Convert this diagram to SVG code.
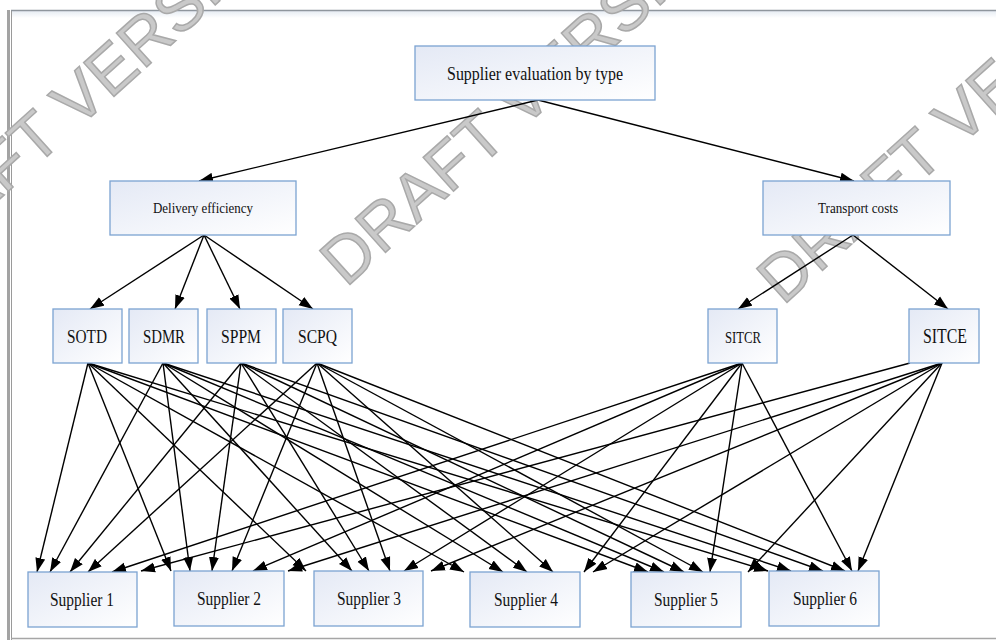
<svg xmlns="http://www.w3.org/2000/svg" width="996" height="640" viewBox="0 0 996 640">
<defs>
<linearGradient id="g" x1="0" y1="0" x2="1" y2="1">
<stop offset="0" stop-color="#e4e9f5"/>
<stop offset="1" stop-color="#ffffff"/>
</linearGradient>
<linearGradient id="band" x1="0" y1="0" x2="0" y2="1">
<stop offset="0" stop-color="#e6ecf3"/>
<stop offset="1" stop-color="#ffffff"/>
</linearGradient>
<marker id="ah" markerWidth="14" markerHeight="11" refX="14" refY="5.5" orient="auto" markerUnits="userSpaceOnUse">
<path d="M0,0.5 L14,5.5 L0,10.5 z" fill="#000"/>
</marker>
<style>
.box{fill:url(#g);stroke:#7ba3d2;stroke-width:1.3}
.t{font-family:"Liberation Serif","Times New Roman",serif;fill:#111;text-anchor:middle}
.wm{font-family:"Liberation Sans",Arial,sans-serif;font-size:66px;fill:#c9c9c9;stroke:#a9a9a9;stroke-width:1.5}
#edges line{stroke:#000;stroke-width:1.4;marker-end:url(#ah)}
</style>
</defs>
<rect x="0" y="0" width="996" height="640" fill="#fff"/>
<g id="frame">
<rect x="11" y="11" width="985" height="7" fill="url(#band)"/>
<rect x="7" y="10" width="3" height="630" fill="#a3a3a3"/>
<line x1="11.5" y1="10" x2="11.5" y2="640" stroke="#9a9a9a" stroke-width="1"/>
<line x1="11" y1="10.5" x2="996" y2="10.5" stroke="#8f969e" stroke-width="1.5"/>
<line x1="11" y1="638.5" x2="996" y2="638.5" stroke="#a6a6a6" stroke-width="1.5"/>
</g>
<g id="watermark">
<text class="wm" transform="translate(-99,288) rotate(-42)">DRAFT VERSION</text>
<text class="wm" transform="translate(346,288) rotate(-42)">DRAFT VERSION</text>
<text class="wm" transform="translate(783,306) rotate(-42)">DRAFT VERSION</text>
</g>
<g id="edges">
<line x1="538" y1="100" x2="199" y2="181"/>
<line x1="538" y1="100" x2="854" y2="181"/>
<line x1="204" y1="235" x2="90" y2="309"/>
<line x1="204" y1="235" x2="175" y2="309"/>
<line x1="204" y1="235" x2="240" y2="309"/>
<line x1="204" y1="235" x2="313" y2="309"/>
<line x1="853" y1="235" x2="738" y2="309"/>
<line x1="853" y1="235" x2="948" y2="309"/>
<!-- SOTD -->
<line x1="88" y1="363" x2="37" y2="572"/>
<line x1="88" y1="363" x2="171" y2="571"/>
<line x1="88" y1="363" x2="306" y2="571"/>
<line x1="88" y1="363" x2="464" y2="572"/>
<line x1="88" y1="363" x2="648" y2="572"/>
<line x1="88" y1="363" x2="768" y2="571"/>
<!-- SDMR -->
<line x1="163" y1="363" x2="50" y2="572"/>
<line x1="163" y1="363" x2="190" y2="571"/>
<line x1="163" y1="363" x2="352" y2="571"/>
<line x1="163" y1="363" x2="503" y2="572"/>
<line x1="163" y1="363" x2="664" y2="572"/>
<line x1="163" y1="363" x2="791" y2="571"/>
<!-- SPPM -->
<line x1="241" y1="363" x2="70" y2="572"/>
<line x1="241" y1="363" x2="212" y2="571"/>
<line x1="241" y1="363" x2="369" y2="571"/>
<line x1="241" y1="363" x2="527" y2="572"/>
<line x1="241" y1="363" x2="684" y2="572"/>
<line x1="241" y1="363" x2="823" y2="571"/>
<!-- SCPQ -->
<line x1="317" y1="363" x2="88" y2="572"/>
<line x1="317" y1="363" x2="232" y2="571"/>
<line x1="317" y1="363" x2="390" y2="571"/>
<line x1="317" y1="363" x2="553" y2="572"/>
<line x1="317" y1="363" x2="703" y2="572"/>
<line x1="317" y1="363" x2="845" y2="571"/>
<!-- SITCR -->
<line x1="742" y1="363" x2="112" y2="572"/>
<line x1="742" y1="363" x2="253" y2="571"/>
<line x1="742" y1="363" x2="404" y2="571"/>
<line x1="742" y1="363" x2="584" y2="572"/>
<line x1="742" y1="363" x2="710" y2="572"/>
<line x1="742" y1="363" x2="852" y2="571"/>
<!-- SITCE -->
<line x1="910" y1="363" x2="141" y2="571"/>
<line x1="942" y1="363" x2="288" y2="571"/>
<line x1="942" y1="363" x2="431" y2="571"/>
<line x1="942" y1="363" x2="593" y2="572"/>
<line x1="942" y1="363" x2="748" y2="572"/>
<line x1="942" y1="363" x2="858" y2="571"/>
</g>
<g id="n-top"><rect class="box" x="415" y="46" width="240" height="54"/><text class="t" x="535" y="80" font-size="19" textLength="176" lengthAdjust="spacingAndGlyphs">Supplier evaluation  by type</text></g>
<g id="n-delivery"><rect class="box" x="110" y="181" width="186" height="54"/><text class="t" x="203" y="213" font-size="15" textLength="100" lengthAdjust="spacingAndGlyphs">Delivery efficiency</text></g>
<g id="n-transport"><rect class="box" x="763" y="181" width="187" height="54"/><text class="t" x="858" y="213" font-size="15" textLength="80" lengthAdjust="spacingAndGlyphs">Transport costs</text></g>
<g id="n-sotd"><rect class="box" x="53" y="309" width="69" height="54"/><text class="t" x="87" y="343" font-size="19" textLength="40" lengthAdjust="spacingAndGlyphs">SOTD</text></g>
<g id="n-sdmr"><rect class="box" x="129" y="309" width="69" height="54"/><text class="t" x="164" y="343" font-size="19" textLength="42" lengthAdjust="spacingAndGlyphs">SDMR</text></g>
<g id="n-sppm"><rect class="box" x="207" y="309" width="69" height="54"/><text class="t" x="241" y="343" font-size="19" textLength="40" lengthAdjust="spacingAndGlyphs">SPPM</text></g>
<g id="n-scpq"><rect class="box" x="283" y="309" width="69" height="54"/><text class="t" x="317.5" y="343" font-size="19" textLength="39" lengthAdjust="spacingAndGlyphs">SCPQ</text></g>
<g id="n-sitcr"><rect class="box" x="708" y="309" width="69" height="54"/><text class="t" x="743" y="343" font-size="16" textLength="36" lengthAdjust="spacingAndGlyphs">SITCR</text></g>
<g id="n-sitce"><rect class="box" x="909" y="309" width="70" height="54"/><text class="t" x="945" y="343" font-size="20" textLength="44" lengthAdjust="spacingAndGlyphs">SITCE</text></g>
<g id="n-s1"><rect class="box" x="28" y="572" width="109" height="55"/><text class="t" x="82" y="606" font-size="19" textLength="64" lengthAdjust="spacingAndGlyphs">Supplier 1</text></g>
<g id="n-s2"><rect class="box" x="174" y="571" width="110" height="55"/><text class="t" x="229" y="605" font-size="19" textLength="64" lengthAdjust="spacingAndGlyphs">Supplier 2</text></g>
<g id="n-s3"><rect class="box" x="314" y="571" width="109" height="55"/><text class="t" x="369" y="605" font-size="19" textLength="64" lengthAdjust="spacingAndGlyphs">Supplier 3</text></g>
<g id="n-s4"><rect class="box" x="470" y="572" width="110" height="55"/><text class="t" x="526" y="606" font-size="19" textLength="64" lengthAdjust="spacingAndGlyphs">Supplier 4</text></g>
<g id="n-s5"><rect class="box" x="631" y="572" width="110" height="55"/><text class="t" x="686" y="606" font-size="19" textLength="64" lengthAdjust="spacingAndGlyphs">Supplier 5</text></g>
<g id="n-s6"><rect class="box" x="769" y="571" width="110" height="55"/><text class="t" x="825" y="605" font-size="19" textLength="64" lengthAdjust="spacingAndGlyphs">Supplier 6</text></g>
</svg>
